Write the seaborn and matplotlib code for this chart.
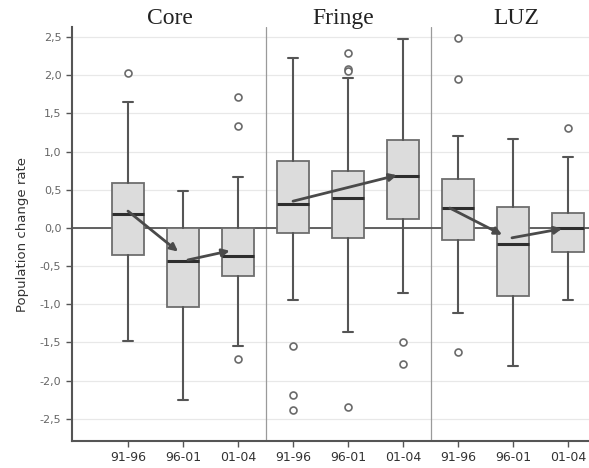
import matplotlib
matplotlib.use("Agg")
import matplotlib.pyplot as plt
import matplotlib.transforms as mtransforms
import seaborn as sns

# categories
groups = ["Core", "Fringe", "LUZ"]
periods = ["91-96", "96-01", "01-04"]

# box summaries (Core x3, Fringe x3, LUZ x3)
q1 = [-0.35, -1.04, -0.63, -0.07, -0.13, 0.12, -0.16, -0.89, -0.32]
med = [0.18, -0.44, -0.37, 0.31, 0.39, 0.68, 0.26, -0.21, 0.00]
q3 = [0.59, 0.00, 0.00, 0.87, 0.74, 1.15, 0.64, 0.27, 0.19]
whislo = [-1.48, -2.26, -1.55, -0.94, -1.36, -0.85, -1.11, -1.81, -0.94]
whishi = [1.65, 0.48, 0.67, 2.23, 1.97, 2.47, 1.20, 1.16, 0.93]
fliers = [[2.03], [], [1.72, 1.33, -1.72],
          [-1.55, -2.19, -2.38], [2.29, 2.08, 2.06, -2.34], [-1.49, -1.78],
          [2.49, 1.95, -1.62], [], [1.31]]

# trend arrows (box position, value)
arrow_x0 = [0.0, 1.09, 3.0, 5.85, 6.98]
arrow_y0 = [0.22, -0.42, 0.35, 0.26, -0.13]
arrow_x1 = [0.91, 1.85, 4.89, 6.80, 7.89]
arrow_y1 = [-0.31, -0.30, 0.69, -0.09, -0.01]

yticks = [2.5, 2.0, 1.5, 1.0, 0.5, 0.0, -0.5, -1.0, -1.5, -2.0, -2.5]

sns.set_theme(style="white")
plt.rcParams['font.family'] = ['DejaVu Sans']

fig = plt.figure(figsize=(5.89, 4.68), dpi=100)
ax = fig.add_axes([0.122, 0.058, 0.878, 0.884])

for y in yticks:
    ax.axhline(y, color="#e8e8e8", lw=0.9, zorder=0)

stats = []
for i in range(len(med)):
    stats.append(dict(med=med[i], q1=q1[i], q3=q3[i], whislo=whislo[i],
                      whishi=whishi[i], fliers=fliers[i]))
pos = list(range(len(med)))
ax.bxp(stats, positions=pos, widths=0.58, capwidths=0.18, patch_artist=True,
       boxprops=dict(facecolor="#dcdcdc", edgecolor="#6e6e6e", lw=1.3),
       medianprops=dict(color="#2e2e2e", lw=2.2),
       whiskerprops=dict(color="#555555", lw=1.5),
       capprops=dict(color="#555555", lw=1.5),
       flierprops=dict(marker="o", markersize=5, markerfacecolor="white",
                       markeredgecolor="#6a6a6a", markeredgewidth=1.2),
       zorder=3)

ax.axhline(0, color="#555555", lw=1.3, zorder=2)
for sep in [2.5, 5.5]:
    ax.axvline(sep, color="#9a9a9a", lw=0.9, zorder=1)

for x0, y0, x1, y1 in zip(arrow_x0, arrow_y0, arrow_x1, arrow_y1):
    ax.annotate("", xy=(x1, y1), xytext=(x0, y0),
                arrowprops=dict(arrowstyle="-|>", color="#4a4a4a", lw=2,
                                mutation_scale=11, shrinkA=0, shrinkB=0),
                zorder=5)

# group titles, slightly off the group centres as in the source
title_shift = [-0.24, -0.09, 0.05]
trans = mtransforms.blended_transform_factory(ax.transData, ax.transAxes)
for k, g in enumerate(groups):
    ax.text(3 * k + 1 + title_shift[k], 1.02, g, transform=trans, ha="center",
            va="center", fontsize=17, family="Liberation Serif", color="#222222")

ax.set_xlim(-1.02, 8.38)
ax.set_ylim(-2.79, 2.63)
ax.set_xticks(pos)
ax.set_xticklabels(periods * 3, fontsize=9, color="#333333")
ax.set_yticks(yticks)
ax.set_yticklabels([f"{v:.1f}".replace(".", ",") for v in yticks],
                   fontsize=8, color="#666666")
ax.set_ylabel("Population change rate", fontsize=9.5, color="#333333", labelpad=8)
ax.tick_params(axis="both", direction="out", length=4, width=1, color="#555555",
               bottom=True, left=True)
ax.tick_params(axis="x", pad=3)

sns.despine(ax=ax, top=True, right=True)
for s in ["left", "bottom"]:
    ax.spines[s].set_color("#555555")
    ax.spines[s].set_linewidth(1.5)

fig.savefig("out.png", dpi=100)
